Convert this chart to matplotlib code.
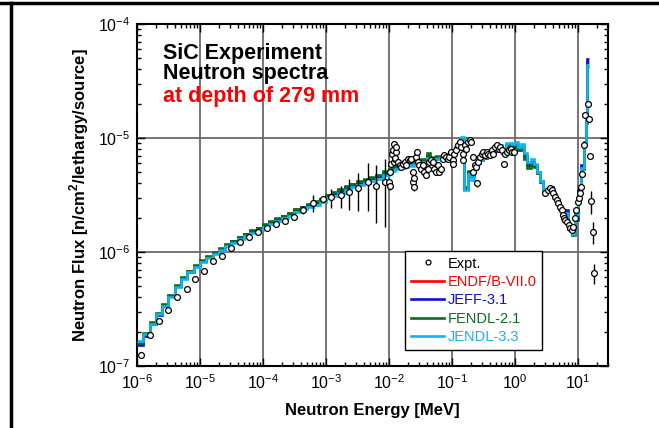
import matplotlib
matplotlib.use("Agg")
import matplotlib.pyplot as plt
from matplotlib.lines import Line2D
from matplotlib.ticker import LogLocator, FuncFormatter, NullFormatter
import numpy as np

plt.rcParams['font.family'] = ['Liberation Sans Narrow', 'Liberation Sans', 'DejaVu Sans']
plt.rcParams['mathtext.fontset'] = 'custom'
plt.rcParams['mathtext.rm'] = 'Liberation Sans'
plt.rcParams['mathtext.bf'] = 'Liberation Sans:bold'

# group boundaries [MeV]
edges = [
    1.00e-6, 1.26e-6, 1.58e-6, 2.00e-6, 2.51e-6, 3.16e-6, 3.98e-6, 5.01e-6, 6.31e-6, 7.94e-6,
    1.00e-5, 1.26e-5, 1.58e-5, 2.00e-5, 2.51e-5, 3.16e-5, 3.98e-5, 5.01e-5, 6.31e-5, 7.94e-5,
    1.00e-4, 1.26e-4, 1.58e-4, 2.00e-4, 2.51e-4, 3.16e-4, 3.98e-4, 5.01e-4, 6.31e-4, 7.94e-4,
    1.00e-3, 1.26e-3, 1.58e-3, 2.00e-3, 2.51e-3, 3.16e-3, 3.98e-3, 5.01e-3, 6.31e-3, 7.94e-3,
    1.00e-2, 1.12e-2, 1.26e-2, 1.41e-2, 1.58e-2, 1.78e-2, 2.00e-2, 2.24e-2, 2.51e-2, 2.82e-2,
    3.16e-2, 3.55e-2, 3.98e-2, 4.47e-2, 5.01e-2, 5.62e-2, 6.31e-2, 7.08e-2, 7.94e-2, 8.91e-2,
    0.100, 0.112, 0.126, 0.141, 0.158, 0.178, 0.200, 0.224, 0.251, 0.282,
    0.316, 0.355, 0.398, 0.447, 0.501, 0.562, 0.631, 0.708, 0.794, 0.891,
    1.00, 1.12, 1.26, 1.41, 1.58, 1.78, 2.00, 2.24, 2.51, 2.82,
    3.16, 3.55, 3.98, 4.47, 5.01, 5.62, 6.31, 7.08, 7.94, 8.91,
    10.0, 11.2, 12.6, 13.3, 14.0, 15.0]

# calculated spectra [1e-6 n/cm2/lethargy/source]
endf = [
    0.157, 0.188, 0.236, 0.287, 0.343, 0.414, 0.505, 0.596, 0.677, 0.758,
    0.834, 0.910, 0.985, 1.07, 1.16, 1.25, 1.35, 1.44, 1.54, 1.63,
    1.74, 1.84, 1.95, 2.06, 2.18, 2.36, 2.48, 2.61, 2.75, 2.91,
    3.14, 3.29, 3.51, 3.72, 3.92, 4.10, 4.32, 4.50, 4.68, 4.98,
    5.15, 5.35, 5.55, 5.65, 5.75, 5.85, 6.05, 5.95, 6.15, 6.25,
    6.35, 6.35, 6.95, 6.55, 6.65, 6.75, 6.85, 7.05, 7.15, 7.35,
    7.55, 8.25, 9.05, 10.0, 3.65, 5.05, 4.65, 5.55, 6.05, 6.45,
    6.75, 7.05, 7.35, 7.75, 8.05, 8.35, 7.45, 8.55, 8.75, 8.35,
    8.65, 7.95, 8.25, 6.85, 5.75, 6.15, 5.65, 4.95, 4.15, 3.45,
    3.45, 3.55, 3.15, 2.75, 2.45, 2.15, 1.95, 1.62, 1.45, 1.95,
    3.3, 5.5, 9.0, 14.0, 46.0]
jeff = [
    0.152, 0.183, 0.232, 0.282, 0.338, 0.410, 0.500, 0.590, 0.670, 0.750,
    0.826, 0.902, 0.977, 1.06, 1.15, 1.24, 1.34, 1.43, 1.53, 1.62,
    1.73, 1.83, 1.94, 2.05, 2.17, 2.34, 2.46, 2.59, 2.73, 2.89,
    3.12, 3.27, 3.48, 3.69, 3.89, 4.07, 4.29, 4.47, 4.65, 4.95,
    5.1, 5.3, 5.5, 5.6, 5.7, 5.8, 6.0, 5.9, 6.1, 6.2,
    6.3, 6.3, 7.0, 6.5, 6.6, 6.7, 6.8, 7.0, 7.1, 7.3,
    7.5, 8.2, 9.0, 10.1, 3.55, 5.0, 4.6, 5.5, 6.0, 6.4,
    6.7, 7.0, 7.3, 7.7, 8.0, 8.3, 7.4, 8.5, 8.7, 8.3,
    8.6, 7.9, 8.2, 6.9, 5.8, 6.2, 5.7, 5.0, 4.2, 3.5,
    3.5, 3.7, 3.25, 2.85, 2.5, 2.2, 2.35, 1.68, 1.5, 2.3,
    3.5, 5.8, 9.3, 14.5, 49.0]
fendl = [
    0.160, 0.195, 0.242, 0.293, 0.350, 0.420, 0.512, 0.603, 0.684, 0.766,
    0.843, 0.920, 0.995, 1.08, 1.17, 1.26, 1.36, 1.45, 1.55, 1.64,
    1.75, 1.86, 1.97, 2.08, 2.20, 2.38, 2.50, 2.63, 2.78, 2.94,
    3.18, 3.34, 3.56, 3.77, 3.98, 4.16, 4.38, 4.58, 4.78, 5.10,
    5.3, 5.5, 5.7, 5.8, 5.9, 6.0, 6.2, 6.1, 6.3, 6.4,
    6.5, 6.5, 7.4, 6.7, 6.8, 6.9, 7.0, 7.2, 7.3, 7.5,
    7.7, 8.3, 9.0, 9.9, 3.7, 5.1, 4.7, 5.6, 6.1, 6.5,
    6.8, 7.1, 7.4, 7.8, 8.1, 8.4, 7.5, 8.6, 8.8, 8.4,
    8.7, 8.0, 8.3, 6.6, 5.5, 6.0, 5.6, 4.9, 4.1, 3.4,
    3.4, 3.5, 3.1, 2.7, 2.4, 2.1, 1.9, 1.6, 1.42, 1.9,
    3.2, 5.3, 8.8, 13.5, 42.0]
jendl = [
    0.165, 0.190, 0.235, 0.283, 0.338, 0.405, 0.495, 0.585, 0.662, 0.740,
    0.815, 0.888, 0.960, 1.04, 1.13, 1.21, 1.30, 1.39, 1.48, 1.57,
    1.67, 1.77, 1.87, 1.97, 2.09, 2.25, 2.36, 2.48, 2.61, 2.76,
    2.97, 3.10, 3.30, 3.49, 3.68, 3.85, 4.05, 4.22, 4.40, 4.70,
    4.9, 5.1, 5.3, 5.4, 5.5, 5.6, 5.8, 5.7, 5.9, 6.0,
    6.1, 6.1, 6.7, 6.3, 6.4, 6.6, 6.7, 6.9, 7.0, 7.2,
    7.4, 8.1, 9.0, 10.2, 3.5, 4.8, 4.3, 5.4, 6.0, 6.4,
    6.8, 7.1, 7.5, 7.9, 8.3, 8.7, 7.8, 9.0, 9.1, 8.8,
    9.3, 8.4, 8.9, 7.4, 6.2, 6.5, 5.9, 5.0, 4.2, 3.5,
    3.5, 3.6, 3.2, 2.8, 2.45, 2.15, 2.2, 1.62, 1.45, 2.1,
    3.3, 5.5, 9.0, 14.2, 44.0]

# measured spectrum: energy [MeV], flux [1e-6], error [%]
exp_e = [
    1.17e-6, 1.63e-6, 2.21e-6, 3.11e-6, 4.34e-6, 6.27e-6, 8.32e-6, 1.16e-5, 1.61e-5, 2.22e-5,
    3.10e-5, 4.31e-5, 6.08e-5, 8.26e-5, 1.15e-4, 1.62e-4, 2.26e-4, 3.08e-4, 4.34e-4, 6.26e-4,
    8.85e-4, 1.19e-3, 1.71e-3, 2.36e-3, 3.28e-3, 4.62e-3, 6.27e-3, 8.73e-3,
    0.0100, 0.0103, 0.0105, 0.0108, 0.0112, 0.0116, 0.0119, 0.0120, 0.0123, 0.0124,
    0.0127, 0.0131, 0.0139, 0.0147, 0.0157, 0.0166, 0.0177, 0.0188, 0.0200, 0.0212,
    0.0225, 0.0239, 0.0239, 0.0248, 0.0254, 0.0270, 0.0277, 0.0287, 0.0305, 0.0324,
    0.0344, 0.0366, 0.0389, 0.0413, 0.0439, 0.0466, 0.0495, 0.0526, 0.0559, 0.0594,
    0.0631, 0.0671, 0.0713, 0.0757, 0.0804, 0.0855, 0.0908, 0.0963,
    0.1025, 0.1025, 0.109, 0.116, 0.124, 0.132, 0.140, 0.149, 0.149, 0.159,
    0.169, 0.180, 0.191, 0.203, 0.216, 0.216, 0.230, 0.245, 0.251, 0.261,
    0.277, 0.295, 0.314, 0.334, 0.356, 0.378, 0.403, 0.429, 0.456, 0.485,
    0.518, 0.551, 0.586, 0.624, 0.664, 0.706, 0.752, 0.800, 0.851, 0.906, 0.964,
    3.01, 3.40, 3.62, 3.85, 4.09, 4.35, 4.62, 4.91, 5.22, 5.56,
    5.76, 6.05, 6.28, 6.67, 7.10, 7.55, 8.02, 8.32, 8.85, 9.40,
    9.88, 10.25, 10.6, 11.2, 11.8, 12.7, 13.1, 14.2, 14.8, 15.7,
    16.1, 17.2, 17.7]
exp_flux = [
    0.126, 0.188, 0.246, 0.311, 0.407, 0.471, 0.576, 0.687, 0.834, 0.929,
    1.08, 1.22, 1.36, 1.49, 1.61, 1.76, 1.88, 2.04, 2.35, 2.68,
    2.90, 3.02, 3.14, 3.36, 3.61, 4.13, 3.79, 4.13,
    4.13, 5.05, 3.79, 5.97, 7.31, 7.80, 6.18, 8.93, 6.6, 6.61,
    7.55, 8.35, 6.18, 5.78, 5.59, 5.97, 6.18, 5.78, 6.6, 6.39,
    6.6, 5.05, 4.13, 3.74, 4.42, 6.83, 7.55, 6.18, 5.78, 5.4,
    5.78, 5.05, 4.73, 5.4, 6.18, 6.39, 6.18, 5.4, 5.05, 5.78,
    5.05, 5.4, 6.6, 7.06, 6.83, 6.6, 6.83, 7.55,
    6.39, 5.97, 7.3, 7.81, 8.63, 9.23, 8.35, 7.3, 6.39, 8.63,
    8.08, 9.23, 9.55, 9.23, 6.83, 5.05, 5.78, 5.59, 4.0, 6.18,
    6.83, 7.3, 7.55, 7.06, 7.55, 7.3, 7.06, 7.81, 7.3, 8.35,
    8.63, 8.08, 8.35, 7.81, 5.97, 7.3, 7.55, 7.81, 8.08, 7.55, 7.55,
    3.27, 3.50, 3.61, 3.50, 3.27, 3.06, 2.86, 2.68, 2.50, 2.34,
    2.12, 1.98, 1.91, 1.85, 1.73, 1.62, 1.56, 1.67, 1.98, 2.34,
    2.77, 2.96, 3.27, 3.73, 4.8, 8.7, 16.0, 20.0, 14.6, 6.9,
    2.8, 1.5, 0.66]
exp_err = [
    4, 4, 4, 4, 4, 4, 4, 4, 4, 4,
    4, 4, 4, 4, 5, 5, 6, 7, 8, 17,
    6, 19, 22, 31, 37, 45, 53, 60,
    8, 6, 8, 5, 5, 5, 5, 5, 5, 5,
    5, 5, 5, 5, 5, 5, 5, 5, 5, 5,
    5, 6, 6, 8, 6, 5, 5, 5, 5, 5,
    5, 5, 5, 5, 5, 5, 5, 5, 5, 5,
    5, 5, 5, 5, 5, 5, 5, 5,
    5, 5, 5, 5, 5, 5, 5, 5, 5, 5,
    5, 5, 5, 5, 5, 5, 5, 5, 8, 5,
    4, 4, 4, 4, 4, 4, 4, 4, 4, 4,
    4, 4, 4, 4, 4, 4, 4, 4, 4, 4, 4,
    3, 3, 3, 3, 3, 3, 3, 3, 3, 3,
    3, 3, 3, 3, 3, 3, 3, 3, 3, 3,
    3, 3, 3, 3, 3, 3, 3, 3, 3, 5,
    23, 22, 20]

libs = [("ENDF/B-VII.0", endf, "#ff0000"),
        ("JEFF-3.1", jeff, "#1010d0"),
        ("FENDL-2.1", fendl, "#0a6e1e"),
        ("JENDL-3.3", jendl, "#10b4f0")]

fig = plt.figure(figsize=(6.59, 4.28), dpi=100)
ax = fig.add_axes([137/659, 62/428, 471/659, 342/428])

handles = []
for name, vals, col in libs:
    ax.stairs(np.array(vals)*1e-6, edges, baseline=None, color=col, lw=1.9, zorder=3)
    handles.append(Line2D([], [], color=col, lw=1.9, label=name))

fl = np.array(exp_flux)*1e-6
ax.errorbar(exp_e, fl, yerr=fl*np.array(exp_err)/100, fmt='o', ms=4.2, mfc='white',
            mec='black', mew=0.9, ecolor='black', elinewidth=1.0, capsize=0, zorder=4)
expt_h = Line2D([], [], ls='none', marker='o', ms=3.5, mfc='white', mec='black', mew=0.9,
                label='Expt.')

ax.set_xscale('log')
ax.set_yscale('log')
ax.set_xlim(1e-6, 30)
ax.set_ylim(1e-7, 1e-4)

fmt = FuncFormatter(lambda v, p: r'$\mathregular{10^{%d}}$' % int(round(np.log10(v))))
ax.xaxis.set_major_locator(LogLocator(base=10, numticks=20))
ax.yaxis.set_major_locator(LogLocator(base=10, numticks=20))
ax.xaxis.set_minor_locator(LogLocator(base=10, subs=np.arange(2, 10), numticks=50))
ax.yaxis.set_minor_locator(LogLocator(base=10, subs=np.arange(2, 10), numticks=50))
ax.xaxis.set_major_formatter(fmt)
ax.yaxis.set_major_formatter(fmt)
ax.xaxis.set_minor_formatter(NullFormatter())
ax.yaxis.set_minor_formatter(NullFormatter())
ax.tick_params(which='both', direction='in', top=True, right=True, labelsize=11.5, width=1)
ax.tick_params(which='major', length=6, pad=5)
ax.tick_params(which='minor', length=3)
ax.grid(True, which='major', color='#6a6a6a', lw=1.3)
ax.set_axisbelow(True)
for s in ax.spines.values():
    s.set_linewidth(1.5)

lab_font = ['Liberation Sans', 'DejaVu Sans']
ax.set_xlabel("Neutron Energy [MeV]", family=lab_font, fontweight='bold', fontsize=12, labelpad=8)
ax.set_ylabel(r"Neutron Flux [n/cm$^\mathbf{2}$/lethargy/source]", family=lab_font,
              fontweight='bold', fontsize=12, labelpad=5)

tfont = dict(family=lab_font, fontweight='bold', fontsize=15.5,
             transform=ax.transAxes, va='center', ha='left')
ax.text(0.055, 0.915, "SiC Experiment", color='black', **tfont)
ax.text(0.055, 0.855, "Neutron spectra", color='black', **tfont)
ax.text(0.055, 0.787, "at depth of 279 mm", color='#ff0000', **tfont)

leg = ax.legend(handles=[expt_h] + handles, loc='lower left',
                bbox_to_anchor=(0.569, 0.047), fontsize=10.5, frameon=True, fancybox=False,
                edgecolor='black', framealpha=1, handlelength=2.3, handletextpad=0.2,
                labelspacing=0.3, borderpad=0.4, borderaxespad=0)
leg.get_frame().set_linewidth(1.0)
for txt, c in zip(leg.get_texts(), ['black', '#ff0000', '#1010d0', '#0a6e1e', '#10b4f0']):
    txt.set_color(c)

# page frame lines
fig.add_artist(Line2D([0, 1], [1 - 3/428, 1 - 3/428], transform=fig.transFigure, color='black', lw=2.5))
fig.add_artist(Line2D([11/659, 11/659], [0, 1 - 3/428], transform=fig.transFigure, color='black', lw=2.5))

fig.savefig("out.png", dpi=100)
